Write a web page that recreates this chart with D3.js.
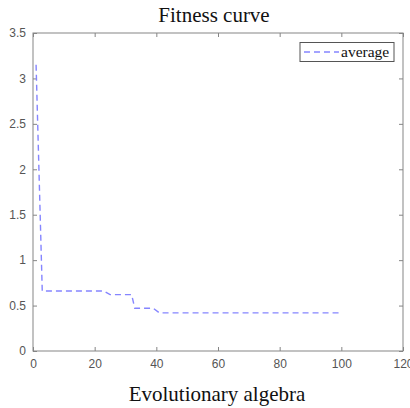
<!DOCTYPE html>
<html><head><meta charset="utf-8">
<script src="https://cdn.jsdelivr.net/npm/d3@7"></script>
<style>body{margin:0;background:#fff}svg{display:block}</style>
</head><body>
<script>
const generations = [1, 3, 23, 25, 32, 33, 39, 41, 100];
const averageFitness = [3.15, 0.66, 0.66, 0.62, 0.62, 0.47, 0.47, 0.42, 0.42];
const xTicks = [0, 20, 40, 60, 80, 100, 120];
const yTicks = [0, 0.5, 1, 1.5, 2, 2.5, 3, 3.5];
const seriesName = "average";

const W = 410, H = 408;
const m = {left: 33, right: 7, top: 33, bottom: 57};
const svg = d3.select("body").append("svg").attr("width", W).attr("height", H);
const x = d3.scaleLinear().domain([0, 120]).range([m.left, W - m.right]);
const y = d3.scaleLinear().domain([0, 3.5]).range([H - m.bottom, m.top]);
const axisColor = "#858585";

const g = svg.append("g");
g.append("rect").attr("x", x(0)).attr("y", y(3.5)).attr("width", x(120) - x(0)).attr("height", y(0) - y(3.5))
  .attr("fill", "none").attr("stroke", axisColor).attr("stroke-width", 1);

function styleAxis(sel) {
  sel.select(".domain").remove();
  sel.selectAll(".tick line").attr("stroke", axisColor);
  sel.selectAll(".tick text").attr("fill", "#555").attr("font-family", "Liberation Sans, Arial, sans-serif").attr("font-size", 12);
}
svg.append("g").attr("transform", `translate(0,${y(0)})`)
  .call(d3.axisBottom(x).tickValues(xTicks).tickSizeInner(-4).tickPadding(8).tickFormat(d3.format("d"))).call(styleAxis);
svg.append("g").attr("transform", `translate(0,${y(3.5)})`)
  .call(d3.axisTop(x).tickValues(xTicks).tickSizeInner(-4).tickFormat("")).call(styleAxis);
svg.append("g").attr("transform", `translate(${x(0)},0)`)
  .call(d3.axisLeft(y).tickValues(yTicks).tickSizeInner(-4).tickPadding(7).tickFormat(d => String(d))).call(styleAxis);
svg.append("g").attr("transform", `translate(${x(120)},0)`)
  .call(d3.axisRight(y).tickValues(yTicks).tickSizeInner(-4).tickFormat("")).call(styleAxis);

const data = generations.map((gv, i) => [gv, averageFitness[i]]);
svg.append("path").datum(data)
  .attr("d", d3.line().x(d => x(d[0])).y(d => y(d[1])))
  .attr("fill", "none").attr("stroke", "#8585ff").attr("stroke-width", 1.4)
  .attr("stroke-dasharray", "6,4");

svg.append("text").attr("x", 214).attr("y", 22).attr("text-anchor", "middle")
  .attr("font-family", "Liberation Serif, Times New Roman, serif").attr("font-size", 21).attr("fill", "#111").text("Fitness curve");
svg.append("text").attr("x", 217).attr("y", 401).attr("text-anchor", "middle")
  .attr("font-family", "Liberation Serif, Times New Roman, serif").attr("font-size", 21).attr("fill", "#111").text("Evolutionary algebra");

const lg = svg.append("g");
lg.append("rect").attr("x", 300).attr("y", 42.5).attr("width", 94).attr("height", 19)
  .attr("fill", "#fff").attr("stroke", "#555").attr("stroke-width", 1);
lg.append("line").attr("x1", 304).attr("x2", 339).attr("y1", 52).attr("y2", 52)
  .attr("stroke", "#8585ff").attr("stroke-width", 1.4).attr("stroke-dasharray", "6,4");
lg.append("text").attr("x", 341).attr("y", 57).attr("font-family", "Liberation Serif, Times New Roman, serif")
  .attr("font-size", 15.5).attr("fill", "#111").text(seriesName);
</script>
</body></html>
